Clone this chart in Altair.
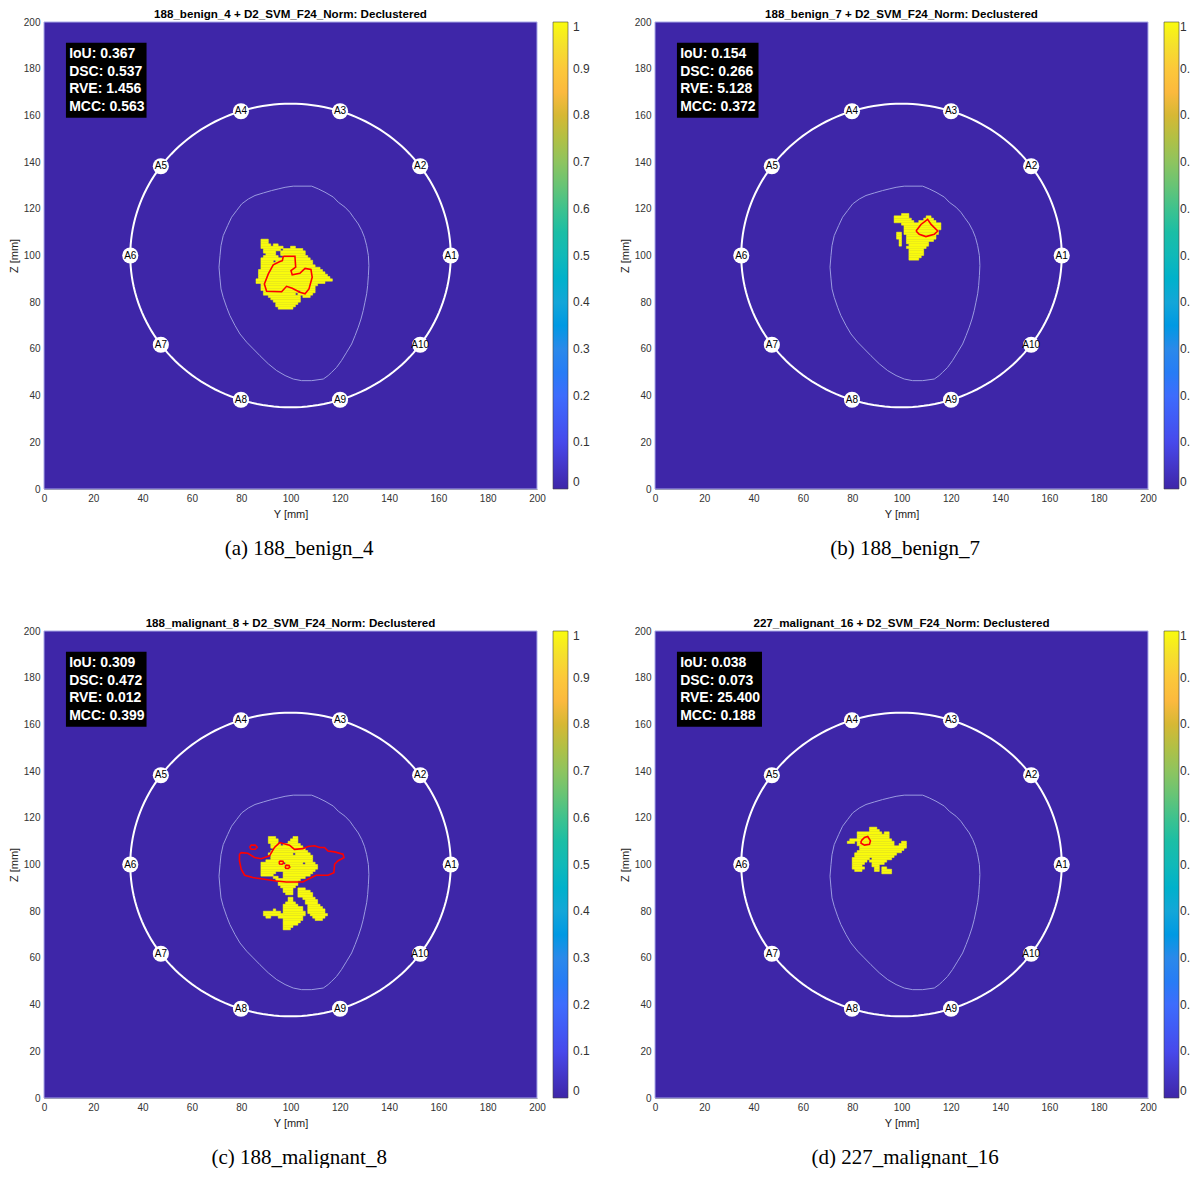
import altair as alt
import pandas as pd
import numpy as np

# ---------------- data ----------------
TITLES = [
    "188_benign_4 + D2_SVM_F24_Norm: Declustered",
    "188_benign_7 + D2_SVM_F24_Norm: Declustered",
    "188_malignant_8 + D2_SVM_F24_Norm: Declustered",
    "227_malignant_16 + D2_SVM_F24_Norm: Declustered",
]
CAPTIONS = ["(a) 188_benign_4", "(b) 188_benign_7", "(c) 188_malignant_8", "(d) 227_malignant_16"]

METRIC_NAMES = ["IoU", "DSC", "RVE", "MCC"]
METRICS = [
    ["0.367", "0.537", "1.456", "0.563"],
    ["0.154", "0.266", "5.128", "0.372"],
    ["0.309", "0.472", "0.012", "0.399"],
    ["0.038", "0.073", "25.400", "0.188"],
]

TICKS = [0, 20, 40, 60, 80, 100, 120, 140, 160, 180, 200]
CBAR_TICKS = [0, 0.1, 0.2, 0.3, 0.4, 0.5, 0.6, 0.7, 0.8, 0.9, 1]

# parula colormap stops
PARULA_POS = [0, 0.1, 0.2, 0.3, 0.4, 0.5, 0.6, 0.7, 0.8, 0.85, 0.9, 0.95, 1.0]
PARULA_COL = ["#3E26A8", "#4749EB", "#3D6CFD", "#2A89EA", "#13A6D8", "#10B9B8",
              "#3EC28E", "#8EC45F", "#D6B834", "#FBB93E", "#FCC83A", "#F5E02C", "#F9FB0E"]

# antennas (Y, Z)
ANT_LABELS = ["A1", "A2", "A3", "A4", "A5", "A6", "A7", "A8", "A9", "A10"]
ANT_Y = [165.0, 152.6, 120.1, 79.9, 47.4, 35.0, 47.4, 79.9, 120.1, 152.6]
ANT_Z = [100.0, 138.2, 161.8, 161.8, 138.2, 100.0, 61.8, 38.2, 38.2, 61.8]
RING_CENTER = (100.0, 100.0)
RING_RADIUS = 65.0

# breast outline (Y, Z)
BREAST_Y = [101.1, 108.6, 111.3, 114.0, 117.4, 119.4, 122.1, 124.1, 125.5, 127.5, 128.9, 130.0,
            130.9, 131.6, 131.8, 131.6, 131.3, 130.9, 130.2, 129.5, 128.6, 127.5, 126.2, 124.8,
            122.8, 120.7, 118.7, 116.7, 115.3, 113.3, 108.6, 104.5, 101.1, 97.8, 94.4, 91.0,
            87.6, 84.9, 82.2, 79.5, 77.5, 75.4, 74.1, 72.7, 71.8, 71.4, 71.0, 71.4, 71.8, 72.7,
            74.5, 76.1, 78.1, 80.2, 82.9, 85.6, 89.0, 92.3, 95.0, 97.8, 101.1]
BREAST_Z = [129.7, 129.7, 128.5, 127.1, 125.0, 122.8, 120.7, 118.5, 116.4, 113.5, 110.7, 107.8,
            104.2, 100.0, 95.7, 91.4, 87.1, 83.6, 80.0, 76.4, 72.8, 69.3, 65.7, 62.1,
            58.6, 55.0, 52.1, 50.0, 48.6, 47.1, 46.4, 46.4, 47.1, 48.6, 50.7, 53.6,
            57.1, 60.0, 62.9, 66.4, 70.0, 74.3, 77.8, 82.1, 85.7, 90.0, 95.0, 100.0, 104.2, 108.5,
            112.8, 116.4, 119.2, 122.1, 124.2, 125.7, 126.8, 127.8, 128.5, 129.2, 129.7]

# predicted region, runs of 1 mm cells: (Z, Y first, Y last)
RUNS_A = [
    (106, 88, 90), (105, 88, 90),
    (104, 88, 91), (104, 93, 94),
    (103, 88, 96), (103, 100, 101),
    (102, 89, 95), (102, 97, 104),
    (101, 89, 93), (101, 96, 105),
    (100, 90, 93), (100, 96, 105),
    (99, 89, 94), (99, 97, 106),
    (98, 88, 107),
    (97, 88, 92), (97, 94, 108),
    (96, 88, 108), (95, 88, 109), (94, 88, 111), (93, 87, 112), (92, 87, 113),
    (91, 87, 114), (90, 87, 115), (89, 86, 116), (88, 86, 113), (87, 88, 110),
    (86, 88, 109), (85, 88, 109),
    (84, 89, 102), (84, 104, 109),
    (83, 89, 101), (83, 103, 108),
    (82, 91, 103), (82, 105, 107),
    (81, 92, 103), (80, 93, 103), (79, 94, 102), (78, 94, 101), (77, 95, 100),
]
RUNS_B = [
    (117, 100, 102),
    (116, 97, 102), (116, 110, 111),
    (115, 97, 103), (115, 109, 112),
    (114, 97, 104), (114, 107, 113),
    (113, 100, 115), (112, 101, 115), (111, 101, 115), (110, 101, 114),
    (109, 98, 99), (109, 101, 114),
    (108, 98, 99), (108, 102, 113),
    (107, 98, 99), (107, 102, 113),
    (106, 99, 99), (106, 102, 112),
    (105, 99, 99), (105, 102, 110),
    (104, 99, 99), (104, 103, 110),
    (103, 102, 109), (102, 103, 108), (101, 103, 108), (100, 103, 108),
    (99, 103, 107), (98, 103, 106),
]
RUNS_C = [
    (111, 91, 93), (111, 101, 102),
    (110, 91, 94), (110, 100, 102),
    (109, 91, 94), (109, 99, 102),
    (108, 92, 95), (108, 97, 103),
    (107, 92, 104), (106, 93, 105), (105, 92, 106),
    (104, 91, 100), (104, 102, 107),
    (103, 92, 108), (102, 92, 108), (101, 90, 108),
    (100, 88, 96), (100, 98, 104), (100, 106, 109),
    (99, 88, 110), (98, 88, 110), (97, 88, 109),
    (96, 88, 93), (96, 97, 108),
    (95, 88, 92), (95, 97, 107),
    (94, 93, 94), (94, 97, 105),
    (93, 94, 103), (92, 95, 102), (91, 95, 102), (90, 96, 101),
    (89, 97, 100), (89, 103, 105),
    (88, 97, 100), (88, 103, 107),
    (87, 98, 100), (87, 103, 108),
    (86, 103, 108),
    (85, 99, 100), (85, 105, 109),
    (84, 99, 100), (84, 106, 110),
    (83, 98, 101), (83, 106, 110),
    (82, 97, 102), (82, 107, 111),
    (81, 97, 104), (81, 107, 112),
    (80, 93, 93), (80, 97, 104), (80, 107, 113),
    (79, 89, 95), (79, 97, 105), (79, 107, 113),
    (78, 89, 96), (78, 97, 105), (78, 108, 114),
    (77, 90, 91), (77, 95, 104), (77, 109, 113),
    (76, 97, 104), (76, 110, 112),
    (75, 97, 103), (74, 97, 102), (73, 97, 100), (72, 97, 99),
]
RUNS_D = [
    (115, 87, 89), (114, 87, 90),
    (113, 82, 91), (113, 93, 94),
    (112, 82, 94), (111, 82, 94), (110, 79, 95),
    (109, 78, 80), (109, 82, 96), (109, 100, 101),
    (108, 82, 96), (108, 99, 101),
    (107, 83, 101), (106, 83, 100), (105, 82, 99), (104, 81, 97), (103, 81, 96),
    (102, 80, 86), (102, 88, 95),
    (101, 80, 85), (101, 87, 93),
    (100, 80, 84), (100, 88, 92),
    (99, 80, 83), (99, 88, 90),
    (98, 80, 84), (98, 89, 90), (98, 92, 93),
    (97, 81, 83), (97, 89, 90), (97, 92, 95),
    (96, 92, 95),
]
RUNS = [RUNS_A, RUNS_B, RUNS_C, RUNS_D]

# ground-truth outlines (list of loops, each loop = (Y list, Z list))
RED_A = [([97.1, 101.8, 102.1, 100.2, 100.7, 103.8, 105.9, 108.3, 108.8, 107.5, 105.9, 103.8, 100.7,
           98.4, 96.4, 90.3, 89.4, 91.0, 93.0, 95.7, 96.7, 97.1],
          [99.7, 99.7, 95.0, 93.5, 91.7, 92.4, 94.5, 94.0, 90.7, 85.7, 83.6, 84.3, 86.0,
           86.8, 84.5, 84.7, 87.8, 92.1, 96.0, 97.4, 97.8, 99.7])]
RED_B = [([105.9, 107.9, 110.6, 112.0, 114.7, 113.3, 109.9, 107.2, 105.9],
          [110.5, 113.3, 115.5, 113.3, 110.5, 109.1, 108.1, 109.1, 110.5])]
RED_C = [([79.3, 80.0, 82.7, 85.4, 88.1, 91.5, 93.5, 95.6, 99.6, 101.6, 105.0, 107.1, 109.8, 111.8,
           113.8, 115.2, 117.9, 121.3, 121.7, 119.2, 117.9, 117.6, 115.2, 110.4, 107.1, 105.0,
           101.6, 98.3, 94.2, 89.5, 84.7, 81.4, 80.0, 79.3, 79.3],
          [104.4, 105.1, 104.8, 103.0, 102.5, 103.7, 107.3, 109.4, 108.3, 106.5, 106.8, 107.7, 108.0, 107.3,
           107.3, 105.8, 105.4, 104.4, 103.0, 101.5, 100.1, 96.5, 95.4, 95.4, 93.7, 92.5,
           92.5, 92.5, 92.9, 93.7, 94.4, 95.4, 98.0, 101.5, 104.4]),
         ([83.4, 84.1, 85.7, 86.5, 85.7, 84.1, 83.4], [107.4, 108.3, 108.3, 107.4, 106.5, 106.5, 107.4]),
         ([95.3, 95.8, 96.9, 97.2, 96.6, 95.6, 95.3], [100.9, 101.5, 101.4, 100.6, 100.1, 100.2, 100.9]),
         ([97.8, 98.3, 99.4, 99.7, 99.1, 98.1, 97.8], [99.1, 99.7, 99.6, 98.8, 98.3, 98.4, 99.1])]
RED_D = [([83.6, 85.0, 86.3, 87.4, 87.0, 85.0, 83.6, 83.6],
          [110.1, 111.6, 112.0, 110.1, 108.7, 108.3, 109.1, 110.1])]
REDS = [RED_A, RED_B, RED_C, RED_D]

# metric box extents (Y, Z in mm)
BOX_LEFT = 8.9
BOX_RIGHT = [41.6, 42.0, 41.6, 43.4]
BOX_BOTTOM, BOX_TOP = 159.0, 191.1
TEXT_Y = 10.2
TEXT_Z = [186.2, 178.6, 171.2, 163.6]

# right-hand colourbars: the reference figure edge leaves only "1", "0." ... "0" readable
RIGHT_COLUMN = [False, True, False, True]

# ---------------- chart ----------------
W, H = 493, 467
FONT = "Liberation Sans"

xs = alt.Scale(domain=[0, 200], nice=False, zero=False)
ys = alt.Scale(domain=[0, 200], nice=False, zero=False)
xaxis = alt.Axis(values=TICKS, title="Y [mm]", labelFlush=False, titlePadding=5)
yaxis = alt.Axis(values=TICKS, title="Z [mm]", labelFlush=False, titlePadding=4)


def X(f):
    return alt.X(f, type="quantitative", scale=xs, axis=xaxis)


def Y(f):
    return alt.Y(f, type="quantitative", scale=ys, axis=yaxis)


def color_enc(right):
    extra = {}
    if right:
        extra["labelExpr"] = "datum.value == 0 ? '0' : datum.value == 1 ? '1' : '0.'"
    return alt.Color(
        "v:Q",
        scale=alt.Scale(domain=PARULA_POS, range=PARULA_COL),
        legend=alt.Legend(
            title=None, orient="right", direction="vertical", offset=16,
            gradientLength=H, gradientThickness=15, values=CBAR_TICKS, format="~g",
            labelFontSize=12, labelFont=FONT, labelColor="#333333",
            labelOffset=1 if right else 5,
            labelOverlap=False, gradientStrokeColor="#444444", gradientStrokeWidth=0.6,
            padding=0, labelBaseline="middle", **extra,
        ),
    )


# circle ring (geometric construction)
ang = np.deg2rad(np.arange(0, 362, 2))
ring_df = pd.DataFrame({
    "y": RING_CENTER[0] + RING_RADIUS * np.cos(ang),
    "z": RING_CENTER[1] + RING_RADIUS * np.sin(ang),
    "o": np.arange(len(ang)),
})
breast_df = pd.DataFrame({"y": BREAST_Y, "z": BREAST_Z, "o": range(len(BREAST_Y))})
ant_df = pd.DataFrame({"y": ANT_Y, "z": ANT_Z, "t": ANT_LABELS})
bg_df = pd.DataFrame({"x": [0], "x2": [200], "y": [0], "y2": [200], "v": [0]})


def panel(i):
    color = color_enc(RIGHT_COLUMN[i])
    runs = RUNS[i]
    blob_df = pd.DataFrame({
        "x": [r[1] for r in runs], "x2": [r[2] + 1 for r in runs],
        "y": [r[0] for r in runs], "y2": [r[0] + 1 for r in runs], "v": [1] * len(runs),
    })
    rows = []
    for g, (ly, lz) in enumerate(REDS[i]):
        for k, (a, b) in enumerate(zip(ly, lz)):
            rows.append({"y": a, "z": b, "g": g, "o": k})
    red_df = pd.DataFrame(rows)
    box_df = pd.DataFrame({"x": [BOX_LEFT], "x2": [BOX_RIGHT[i]], "y": [BOX_BOTTOM], "y2": [BOX_TOP]})
    txt_df = pd.DataFrame({
        "y": [TEXT_Y] * 4, "z": TEXT_Z,
        "t": [f"{n}: {v}" for n, v in zip(METRIC_NAMES, METRICS[i])],
    })
    title_df = pd.DataFrame({"t": [TITLES[i]]})

    bg = alt.Chart(bg_df).mark_rect(stroke="#a9a9e8", strokeWidth=1).encode(
        x=X("x"), x2="x2", y=Y("y"), y2="y2", color=color)
    breast = alt.Chart(breast_df).mark_line(color="#9a9ae0", strokeWidth=1).encode(
        x=X("y"), y=Y("z"), order="o:Q")
    blob = alt.Chart(blob_df).mark_rect(stroke="#F9FB0E", strokeWidth=0.5).encode(
        x=X("x"), x2="x2", y=Y("y"), y2="y2", color=color)
    red = alt.Chart(red_df).mark_line(color="#FF0000", strokeWidth=1.6).encode(
        x=X("y"), y=Y("z"), order="o:Q", detail="g:N")
    ring = alt.Chart(ring_df).mark_line(color="white", strokeWidth=2).encode(
        x=X("y"), y=Y("z"), order="o:Q")
    ants = alt.Chart(ant_df).mark_circle(size=260, color="white", opacity=1).encode(
        x=X("y"), y=Y("z"))
    ant_txt = alt.Chart(ant_df).mark_text(fontSize=10, font=FONT, color="black").encode(
        x=X("y"), y=Y("z"), text="t:N")
    box = alt.Chart(box_df).mark_rect(color="black").encode(
        x=X("x"), x2="x2", y=Y("y"), y2="y2")
    txt = alt.Chart(txt_df).mark_text(align="left", baseline="middle", fontSize=14,
                                      fontWeight="bold", font=FONT, color="white").encode(
        x=X("y"), y=Y("z"), text="t:N")
    ttl = alt.Chart(title_df).mark_text(align="center", baseline="middle", fontSize=11.6,
                                        fontWeight="bold", font=FONT, color="black").encode(
        x=alt.value(W / 2), y=alt.value(-7), text="t:N")

    plot = alt.layer(bg, breast, blob, red, ring, ants, ant_txt, box, txt, ttl).properties(
        width=W, height=H)
    return alt.vconcat(
        plot,
        title=alt.TitleParams(CAPTIONS[i], orient="bottom", font="Liberation Serif",
                              fontSize=21, fontWeight="normal", color="black", offset=19,
                              anchor="middle", frame="bounds"),
    ).resolve_scale(color="independent")


row1 = alt.hconcat(panel(0), panel(1), spacing=29).resolve_scale(color="independent")
row2 = alt.hconcat(panel(2), panel(3), spacing=29).resolve_scale(color="independent")

chart = (
    alt.vconcat(row1, row2, spacing=59)
    .resolve_scale(color="independent")
    .properties(padding={"top": 1, "bottom": 0, "left": 0, "right": 0})
    .configure_view(stroke=None)
    .configure_axis(
        labelFont=FONT, titleFont=FONT, labelFontSize=10, titleFontSize=11,
        labelColor="#333333", titleColor="#222222", titleFontWeight="normal",
        ticks=False, grid=False, domainColor="#8c8c8c", domainWidth=1,
        labelPadding=4, zindex=1,
    )
)

chart.save("out.html", embed_options={"renderer": "svg", "actions": False})
